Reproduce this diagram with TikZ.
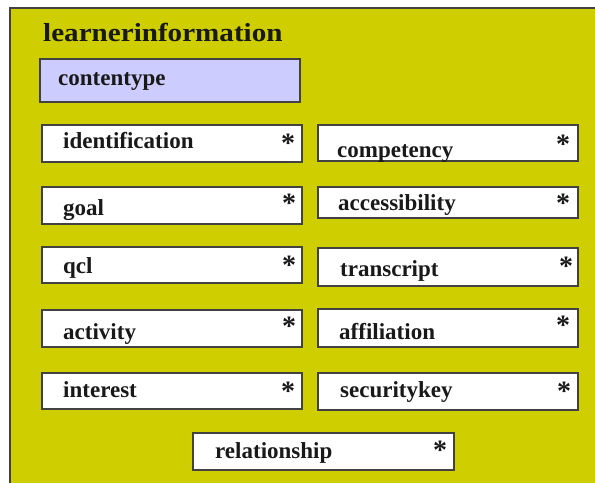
\documentclass[tikz,border=0pt]{standalone}
\usepackage{graphicx}
\usepackage{fontspec}
\setmainfont{Liberation Serif}
\definecolor{bgyellow}{RGB}{206,206,0}
\definecolor{lav}{RGB}{204,204,255}
\definecolor{frame}{RGB}{66,66,66}
\definecolor{ink}{RGB}{25,25,25}
\begin{document}
\begin{tikzpicture}[x=1pt,y=-1pt,
  elem/.style={draw=frame, line width=1.3pt, fill=white, inner sep=0pt, outer sep=0pt, anchor=north west, minimum width=260pt, minimum height=37pt},
  lbl/.style={anchor=base west, inner sep=0pt, font=\fontsize{23}{26}\selectfont\bfseries, text=ink},
  star/.style={anchor=base, inner sep=0pt, font=\fontsize{28}{30}\selectfont\bfseries, text=ink}]
\useasboundingbox (0,0) rectangle (595,483);
\fill[bgyellow] (10,8) rectangle (595,483);
\draw[frame, line width=1.8pt] (10,483) -- (10,8) -- (595,8);

\node[anchor=base west, inner sep=0pt, font=\fontsize{26}{30}\selectfont\bfseries, text=ink] (title) at (43,41) {\scalebox{1.12}[1]{learnerinformation}};

\node[elem, fill=lav, minimum width=260pt, minimum height=43pt] (contentype) at (40,59) {};
\node[lbl] (tcontentype) at (58,85) {contentype};

% left column
\node[elem] (identification) at (42,125) {};
\node[lbl] (tidentification) at (63,148) {identification};
\node[star] (sidentification) at (288,152) {*};

\node[elem] (goal) at (42,187) {};
\node[lbl] (tgoal) at (63,215) {goal};
\node[star] (sgoal) at (289,212) {*};

\node[elem, minimum height=36pt] (qcl) at (42,247) {};
\node[lbl] (tqcl) at (63,273) {qcl};
\node[star] (sqcl) at (289,274) {*};

\node[elem] (activity) at (42,310) {};
\node[lbl] (tactivity) at (63,339) {activity};
\node[star] (sactivity) at (289,335) {*};

\node[elem, minimum height=36pt] (interest) at (42,373) {};
\node[lbl] (tinterest) at (63,397) {interest};
\node[star] (sinterest) at (288,400) {*};

% right column
\node[elem, minimum height=36pt] (competency) at (318,125) {};
\node[lbl] (tcompetency) at (337,157) {competency};
\node[star] (scompetency) at (563,153) {*};

\node[elem, minimum height=31pt] (accessibility) at (318,187) {};
\node[lbl] (taccessibility) at (338,210) {accessibility};
\node[star] (saccessibility) at (563,212) {*};

\node[elem, minimum height=38pt] (transcript) at (318,248) {};
\node[lbl] (ttranscript) at (340,276) {transcript};
\node[star] (stranscript) at (566,275) {*};

\node[elem, minimum height=38pt] (affiliation) at (318,309) {};
\node[lbl] (taffiliation) at (339,339) {affiliation};
\node[star] (saffiliation) at (563,334) {*};

\node[elem] (securitykey) at (318,373) {};
\node[lbl] (tsecuritykey) at (340,397) {securitykey};
\node[star] (ssecuritykey) at (564,400) {*};

% bottom
\node[elem, minimum width=261pt] (relationship) at (193,433) {};
\node[lbl] (trelationship) at (215,458) {relationship};
\node[star] (srelationship) at (440,459) {*};
\end{tikzpicture}
\end{document}
